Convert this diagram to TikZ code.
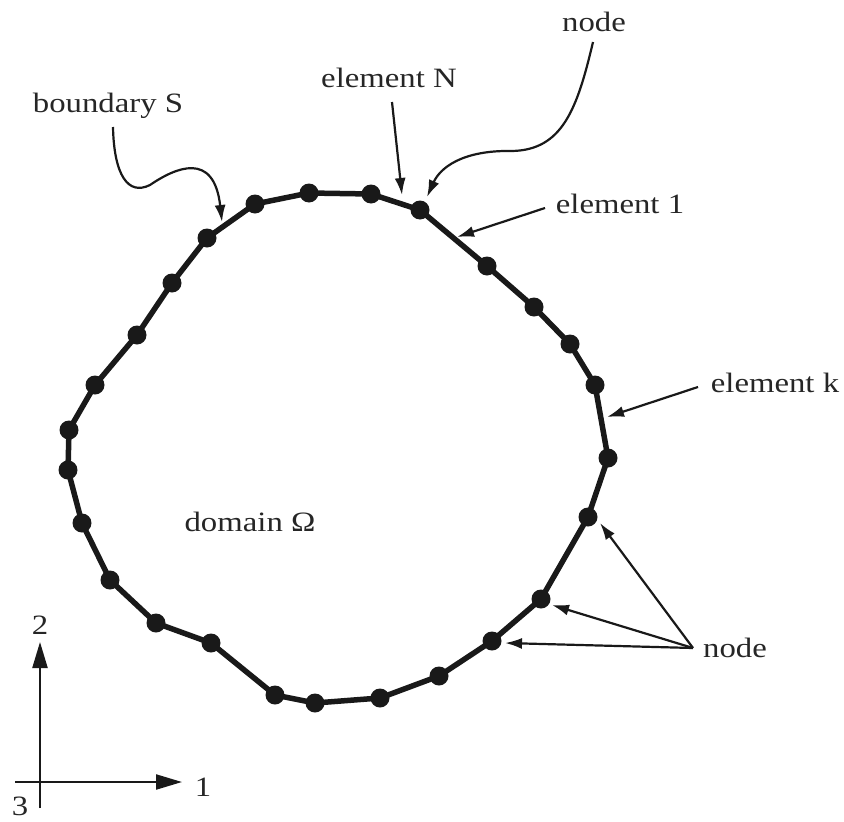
\documentclass[tikz,border=0pt]{standalone}
\usepackage{fontspec}
\setmainfont{Liberation Serif}[FakeStretch=1.17]
\usetikzlibrary{arrows.meta}
\begin{document}
\begin{tikzpicture}[x=1pt,y=-1pt,
  dot/.style={circle,fill=black!90,inner sep=0pt,minimum size=19pt},
  lbl/.style={inner sep=0pt,font=\fontsize{28}{32}\selectfont,text=black!85},
  bnd/.style={line width=5.5pt,black!90,line join=round},
  ptr/.style={line width=2.2pt,black!90,-{Latex[length=17pt,width=11pt]}},
  axis/.style={line width=2.2pt,black!90,-{Triangle[length=26pt,width=15pt]}}]
\useasboundingbox (0,0) rectangle (844,822);
% boundary nodes
\foreach \i/\x/\y in {1/420/210,2/487/266,3/534/307,4/570/344,5/595/385,6/608/458,
  7/588/517,8/541/599,9/492/641,10/439/676,11/380/698,12/315/703,13/275/695,
  14/211/643,15/156/623,16/110/580,17/82/523,18/68/470,19/69/430,20/95/385,
  21/137/335,22/172/283,23/207/238,24/255/204,25/309/193,26/371/194}
  \coordinate (p\i) at (\x,\y);
\draw[bnd] (p1)--(p2)--(p3)--(p4)--(p5)--(p6)--(p7)--(p8)--(p9)--(p10)--(p11)--(p12)--(p13)
  --(p14)--(p15)--(p16)--(p17)--(p18)--(p19)--(p20)--(p21)--(p22)--(p23)--(p24)--(p25)--(p26)--cycle;
\foreach \i in {1,...,26} \node[dot] (n\i) at (p\i) {};
% labels
\node[lbl] (tnode) at (594,22) {node};
\node[lbl] (elN) at (389,78) {element N};
\node[lbl] (el1) at (620,204) {element 1};
\node[lbl] (elk) at (775,383) {element k};
\node[lbl] (bnode) at (735,648) {node};
\node[lbl] (bS) at (108,106) {boundary S};
\node[lbl] (dom) at (250,522) {domain Ω};
\node[lbl] (a2) at (40,625) {2};
\node[lbl] (a1) at (203,787) {1};
\node[lbl] (a3) at (20,806) {3};
% connector coordinates
\coordinate (sN) at (392,102); \coordinate (tN) at (402,195);
\coordinate (s1) at (545,208); \coordinate (t1) at (457,237);
\coordinate (sk) at (698,387); \coordinate (tk) at (607,417);
\coordinate (sn) at (593,42);  \coordinate (tn) at (427,197);
\coordinate (sS) at (113,127); \coordinate (tS) at (222,222);
\coordinate (sb) at (693,648);
\coordinate (tb1) at (600,523); \coordinate (tb2) at (552,605); \coordinate (tb3) at (505,643);
\draw[ptr] (sN) -- (tN);
\draw[ptr] (s1) -- (t1);
\draw[ptr] (sk) -- (tk);
\draw[ptr] (sn) .. controls (577,110) and (562,150) .. (512,151)
               .. controls (462,150) and (440,168) .. (tn);
\draw[ptr] (sS) .. controls (114,175) and (128,196) .. (150,185)
               .. controls (175,168) and (214,150) .. (tS);
\draw[ptr] (sb) -- (tb1);
\draw[ptr] (sb) -- (tb2);
\draw[ptr] (sb) -- (tb3);
% axes
\coordinate (ob) at (40,808); \coordinate (ol) at (15,782);
\coordinate (ax2) at (40,642); \coordinate (ax1) at (182,782);
\draw[axis] (ob) -- (ax2);
\draw[axis] (ol) -- (ax1);
\end{tikzpicture}
\end{document}
